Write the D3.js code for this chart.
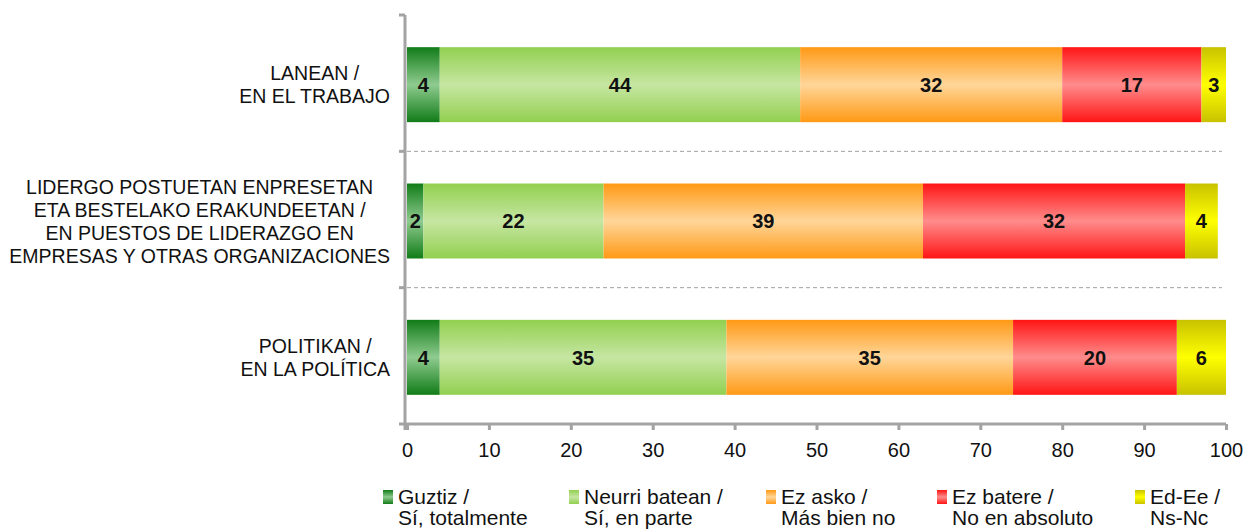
<!DOCTYPE html>
<html>
<head>
<meta charset="utf-8">
<script src="https://cdn.jsdelivr.net/npm/d3@7"></script>
<style>
  body { margin: 0; background: #fff; }
  svg { font-family: "Liberation Sans", Arial, sans-serif; }
</style>
</head>
<body>
<div id="chart"></div>
<script>
// categories (each label is split into lines)
const categories = [
    ['LANEAN /', 'EN EL TRABAJO'],
    ['LIDERGO POSTUETAN ENPRESETAN', 'ETA BESTELAKO ERAKUNDEETAN /', 'EN PUESTOS DE LIDERAZGO EN', 'EMPRESAS Y OTRAS ORGANIZACIONES'],
    ['POLITIKAN /', 'EN LA POLÍTICA']
];
const seriesNames = [
    ['Guztiz /', 'Sí, totalmente'],
    ['Neurri batean /', 'Sí, en parte'],
    ['Ez asko /', 'Más bien no'],
    ['Ez batere /', 'No en absoluto'],
    ['Ed-Ee /', 'Ns-Nc']
];
const guztiz = [4, 2, 4];
const neurri = [44, 22, 35];
const ezAsko = [32, 39, 35];
const ezBatere = [17, 32, 20];
const edEe = [3, 4, 6];
const xTicks = [0, 10, 20, 30, 40, 50, 60, 70, 80, 90, 100];

// gradient colors: [edge, middle]
const colors = [
    ['#117c18', '#8fcb8f'],
    ['#92d050', '#c6e6a2'],
    ['#ff9915', '#ffd699'],
    ['#ff1515', '#ff8c8c'],
    ['#c8c200', '#ffff00']
];

const width = 1245, height = 531;
const plot = { left: 407, right: 1226, top: 15, bottom: 424 };
const axisGray = '#a3a3a3';

const svg = d3.select('#chart').append('svg')
    .attr('width', width)
    .attr('height', height);

const defs = svg.append('defs');
colors.forEach((c, i) => {
    const g = defs.append('linearGradient')
        .attr('id', 'grad' + i)
        .attr('x1', 0).attr('y1', 0).attr('x2', 0).attr('y2', 1);
    g.append('stop').attr('offset', '0%').attr('stop-color', c[0]);
    g.append('stop').attr('offset', '50%').attr('stop-color', c[1]);
    g.append('stop').attr('offset', '100%').attr('stop-color', c[0]);
});

const x = d3.scaleLinear()
    .domain([0, 100])
    .range([plot.left, plot.right]);

const y = d3.scaleBand()
    .domain(d3.range(categories.length))
    .range([plot.top + 1.5, plot.bottom + 1.5])
    .paddingInner(0.45)
    .paddingOuter(0.225);

// build stacked data
const rows = categories.map((c, i) => ({
    idx: i,
    vals: [guztiz[i], neurri[i], ezAsko[i], ezBatere[i], edEe[i]]
}));
const keys = d3.range(seriesNames.length);
const stacked = d3.stack()
    .keys(keys)
    .value((d, k) => d.vals[k])(rows);

// separators between categories
const step = (plot.bottom - plot.top) / categories.length;
const sepYs = d3.range(1, categories.length).map(i => plot.top + step * i);
svg.append('g')
    .selectAll('line')
    .data(sepYs)
    .enter().append('line')
    .attr('x1', plot.left).attr('x2', x(99.5))
    .attr('y1', d => d).attr('y2', d => d)
    .attr('stroke', '#a0a0a0')
    .attr('stroke-dasharray', '4,3');

// bars
const layer = svg.append('g')
    .selectAll('g')
    .data(stacked)
    .enter().append('g')
    .attr('fill', d => `url(#grad${d.key})`);

layer.selectAll('rect')
    .data(d => d)
    .enter().append('rect')
    .attr('x', d => x(d[0]))
    .attr('width', d => x(d[1]) - x(d[0]))
    .attr('y', d => y(d.data.idx))
    .attr('height', y.bandwidth());

// value labels
layer.selectAll('text')
    .data(d => d.map(v => ({ v, val: v[1] - v[0] })))
    .enter().append('text')
    .attr('x', d => (x(d.v[0]) + x(d.v[1])) / 2)
    .attr('y', d => y(d.v.data.idx) + y.bandwidth() / 2)
    .attr('dy', '0.36em')
    .attr('text-anchor', 'middle')
    .attr('font-size', '20px')
    .attr('font-weight', 'bold')
    .attr('fill', '#111')
    .text(d => d.val);

// x axis
const xAxis = svg.append('g')
    .attr('transform', `translate(0, ${plot.bottom})`)
    .call(d3.axisBottom(x).tickValues(xTicks).tickSize(6).tickSizeOuter(0).tickPadding(13));
xAxis.select('.domain').attr('stroke', axisGray).attr('stroke-width', 3)
    .attr('d', `M${plot.left - 8},0H${plot.right}`);
xAxis.selectAll('.tick line').attr('stroke', axisGray).attr('stroke-width', 3);
xAxis.selectAll('.tick text')
    .attr('font-size', '20px')
    .attr('font-family', '"Liberation Sans", Arial, sans-serif')
    .attr('fill', '#111');

// y axis line and ticks
const yAxisG = svg.append('g');
yAxisG.append('line')
    .attr('x1', plot.left - 2).attr('x2', plot.left - 2)
    .attr('y1', plot.top).attr('y2', plot.bottom + 6)
    .attr('stroke', axisGray).attr('stroke-width', 3);
yAxisG.selectAll('line.t')
    .data([plot.top].concat(sepYs))
    .enter().append('line')
    .attr('class', 't')
    .attr('x1', plot.left - 8).attr('x2', plot.left - 2)
    .attr('y1', d => d).attr('y2', d => d)
    .attr('stroke', axisGray).attr('stroke-width', 3);

// category labels: right-aligned block, lines centred inside it
const lineH = 23;
const labelRight = 390;
svg.append('g')
    .selectAll('text')
    .data(categories)
    .enter().append('text')
    .attr('text-anchor', 'middle')
    .attr('font-size', '19.5px')
    .attr('fill', '#111')
    .each(function (lines, i) {
        const cy = y(i) + y.bandwidth() / 2;
        const t = d3.select(this);
        const spans = lines.map((l, j) => t.append('tspan')
            .attr('y', cy + (j - (lines.length - 1) / 2) * lineH)
            .attr('dy', '0.36em')
            .text(l));
        const maxW = d3.max(spans, s => s.node().getComputedTextLength());
        spans.forEach(s => s.attr('x', labelRight - maxW / 2));
    });

// legend
const legendX = [383, 569, 766, 937, 1135];
const legend = svg.append('g');
seriesNames.forEach((names, i) => {
    const g = legend.append('g').attr('transform', `translate(${legendX[i]}, 504)`);
    g.append('rect')
        .attr('x', 0).attr('y', -14)
        .attr('width', 10).attr('height', 14)
        .attr('fill', `url(#grad${i})`);
    names.forEach((n, j) => {
        g.append('text')
            .attr('x', 15)
            .attr('y', j * 21)
            .attr('font-size', '21px')
            .attr('fill', '#111')
            .text(n);
    });
});
</script>
</body>
</html>
